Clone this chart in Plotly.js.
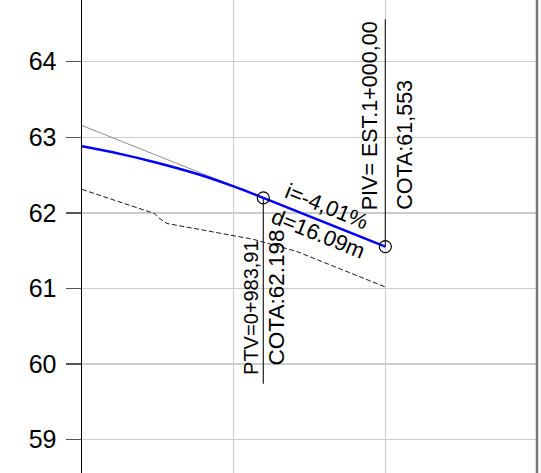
<!DOCTYPE html>
<html>
<head>
<meta charset="utf-8">
<script src="https://cdn.plot.ly/plotly-3.0.1.min.js"></script>
<style>html,body{margin:0;padding:0;background:#fff;}#chart{width:541px;height:473px;}</style>
</head>
<body>
<div id="chart"></div>
<script>
// Terrain (dashed)
const terrainX = [960, 969.6, 970.3, 971.2, 982.6, 988.3, 1000];
const terrainY = [62.31, 61.99, 61.92, 61.86, 61.65, 61.49, 61.02];
// Vertical curve (blue)
const curveX = [960, 965, 970, 975, 980, 983.91];
const curveY = [62.88, 62.78, 62.66, 62.52, 62.35, 62.198];
// Grade segment PTV -> PIV
const gradeX = [983.91, 1000];
const gradeY = [62.198, 61.553];
// Tangent extension (gray)
const tangentX = [960, 983.91, 1000];
const tangentY = [63.155, 62.198, 61.553];
// Key points
const pointX = [983.91, 1000];
const pointY = [62.198, 61.553];
// Marker leader lines
const ptvLineX = [983.91, 983.91];
const ptvLineY = [62.198, 59.74];
const pivLineX = [1000, 1000];
const pivLineY = [61.553, 64.56];
const yTicks = [59, 60, 61, 62, 63, 64];

const font = 'Liberation Sans, Arial, sans-serif';

const traces = [
  {x: terrainX, y: terrainY, mode: 'lines', line: {color: '#000', width: 0.9, dash: '5px,2.5px'}, hoverinfo: 'skip'},
  {x: tangentX, y: tangentY, mode: 'lines', line: {color: '#8c8c8c', width: 1}, hoverinfo: 'skip'},
  {x: ptvLineX, y: ptvLineY, mode: 'lines', line: {color: '#222', width: 1.2}, hoverinfo: 'skip'},
  {x: pivLineX, y: pivLineY, mode: 'lines', line: {color: '#222', width: 1.2}, hoverinfo: 'skip'},
  {x: curveX, y: curveY, mode: 'lines', line: {color: '#0000ff', width: 2.5, shape: 'spline'}, hoverinfo: 'skip'},
  {x: gradeX, y: gradeY, mode: 'lines', line: {color: '#0000ff', width: 2.5}, hoverinfo: 'skip'},
  {x: pointX, y: pointY, mode: 'markers', marker: {symbol: 'circle-open', size: 12, color: '#000', line: {width: 1.2, color: '#000'}}, hoverinfo: 'skip'}
];

const layout = {
  width: 541, height: 473,
  margin: {l: 82, r: 4, t: 0, b: 0, pad: 0},
  paper_bgcolor: '#fff', plot_bgcolor: '#fff',
  showlegend: false,
  font: {family: font, color: '#000'},
  xaxis: {
    range: [960, 1020], dtick: 20, tick0: 960,
    showticklabels: false, ticks: '',
    showgrid: true, gridcolor: '#cccccc', gridwidth: 1.5,
    zeroline: false, showline: false, fixedrange: true
  },
  yaxis: {
    range: [58.56, 64.815],
    tickvals: yTicks, ticktext: yTicks.map(String),
    ticks: 'outside', ticklen: 15, tickwidth: 1.5, tickcolor: '#555',
    tickfont: {family: font, size: 25, color: '#000'},
    ticklabelstandoff: 4,
    showgrid: true, gridcolor: '#cccccc', gridwidth: 1.5,
    zeroline: false, showline: true, linecolor: '#000', linewidth: 1.5,
    fixedrange: true
  },
  shapes: [
    {type: 'line', xref: 'paper', yref: 'paper', x0: 1, x1: 1, y0: 0, y1: 1, line: {color: '#777', width: 2.5}}
  ],
  annotations: [
    {x: 982.29, y: 60.743, text: 'PTV=0+983,91', textangle: -90, showarrow: false, xanchor: 'center', yanchor: 'middle', font: {family: font, size: 20, color: '#000'}},
    {x: 985.65, y: 60.876, text: 'COTA:62.198', textangle: -90, showarrow: false, xanchor: 'center', yanchor: 'middle', font: {family: font, size: 22.5, color: '#000'}},
    {x: 998.0, y: 63.28, text: 'PIV= EST.1+000,00', textangle: -90, showarrow: false, xanchor: 'center', yanchor: 'middle', font: {family: font, size: 21.5, color: '#000'}},
    {x: 1002.56, y: 62.897, text: 'COTA:61,553', textangle: -90, showarrow: false, xanchor: 'center', yanchor: 'middle', font: {family: font, size: 21.5, color: '#000'}},
    {x: 992.3, y: 62.083, text: 'i=-4,01%', textangle: 22, showarrow: false, xanchor: 'center', yanchor: 'middle', font: {family: font, size: 22, color: '#000'}},
    {x: 991.1, y: 61.726, text: 'd=16.09m', textangle: 22, showarrow: false, xanchor: 'center', yanchor: 'middle', font: {family: font, size: 22, color: '#000'}}
  ]
};

Plotly.newPlot('chart', traces, layout, {staticPlot: true, displayModeBar: false});
</script>
</body>
</html>
